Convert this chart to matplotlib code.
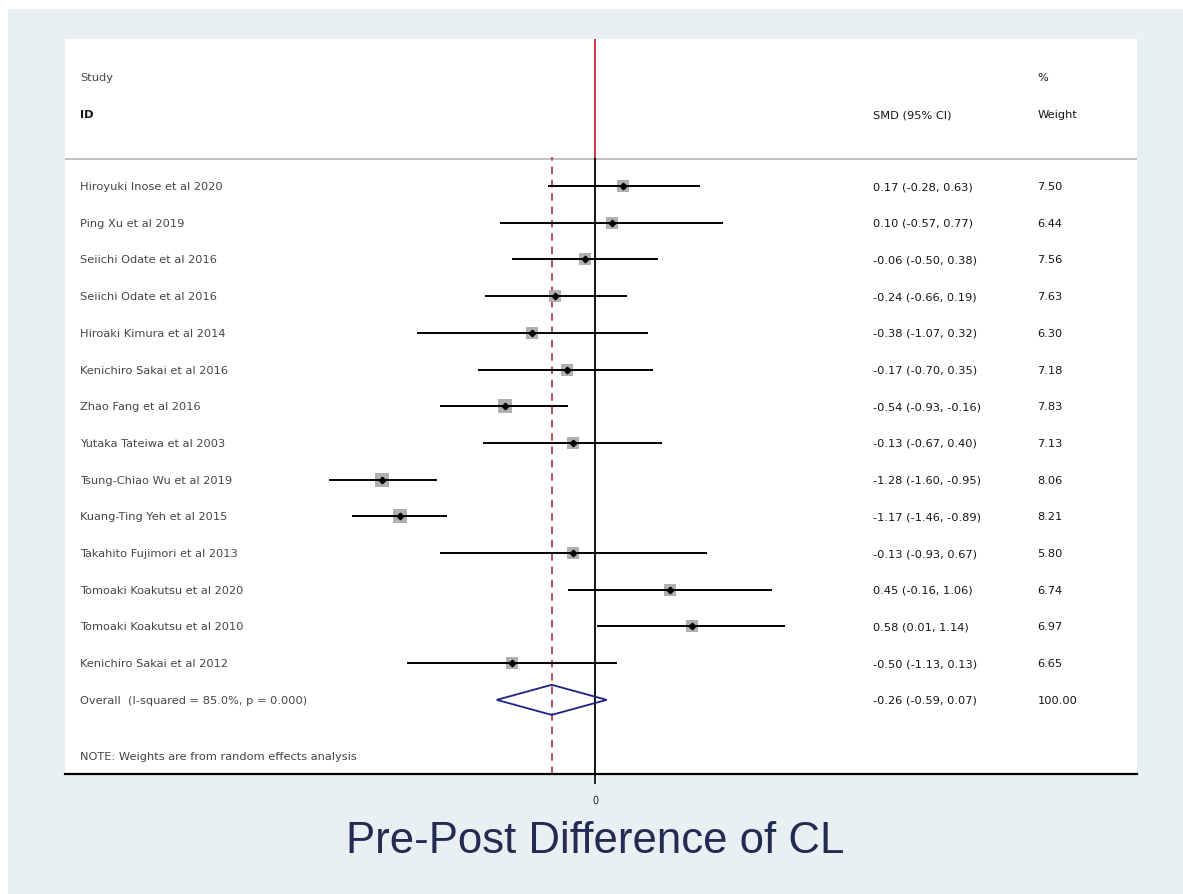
import matplotlib.pyplot as plt
from matplotlib.patches import Rectangle
import numpy as np

# study data
studies = ["Hiroyuki Inose et al 2020", "Ping Xu et al 2019", "Seiichi Odate et al 2016",
           "Seiichi Odate et al 2016", "Hiroaki Kimura et al 2014", "Kenichiro Sakai et al 2016",
           "Zhao Fang et al 2016", "Yutaka Tateiwa et al 2003", "Tsung-Chiao Wu et al 2019",
           "Kuang-Ting Yeh et al 2015", "Takahito Fujimori et al 2013", "Tomoaki Koakutsu et al 2020",
           "Tomoaki Koakutsu et al 2010", "Kenichiro Sakai et al 2012"]
smd = [0.17, 0.10, -0.06, -0.24, -0.38, -0.17, -0.54, -0.13, -1.28, -1.17, -0.13, 0.45, 0.58, -0.50]
lo = [-0.28, -0.57, -0.50, -0.66, -1.07, -0.70, -0.93, -0.67, -1.60, -1.46, -0.93, -0.16, 0.01, -1.13]
hi = [0.63, 0.77, 0.38, 0.19, 0.32, 0.35, -0.16, 0.40, -0.95, -0.89, 0.67, 1.06, 1.14, 0.13]
weights = [7.50, 6.44, 7.56, 7.63, 6.30, 7.18, 7.83, 7.13, 8.06, 8.21, 5.80, 6.74, 6.97, 6.65]
overall = -0.26
overall_lo = -0.59
overall_hi = 0.07
overall_label = "Overall  (I-squared = 85.0%, p = 0.000)"
ci_labels = ["0.17 (-0.28, 0.63)", "0.10 (-0.57, 0.77)", "-0.06 (-0.50, 0.38)", "-0.24 (-0.66, 0.19)",
             "-0.38 (-1.07, 0.32)", "-0.17 (-0.70, 0.35)", "-0.54 (-0.93, -0.16)", "-0.13 (-0.67, 0.40)",
             "-1.28 (-1.60, -0.95)", "-1.17 (-1.46, -0.89)", "-0.13 (-0.93, 0.67)", "0.45 (-0.16, 1.06)",
             "0.58 (0.01, 1.14)", "-0.50 (-1.13, 0.13)"]
overall_ci_label = "-0.26 (-0.59, 0.07)"
overall_weight = "100.00"

bg = "#e9f0f3"
fig = plt.figure(figsize=(11.83, 8.95), dpi=100, facecolor="white")
# light blue-grey graph region, thin white margin at top/left like the screenshot
fig.patches.append(Rectangle((8 / 1183, 0), 1, 1 - 10 / 895, transform=fig.transFigure,
                             facecolor=bg, edgecolor="none", zorder=-10))
ax = fig.add_axes([65 / 1183, 120 / 895, 1072 / 1183, 735 / 895])
ax.set_facecolor("white")

n = len(studies)
rows = np.arange(n)
sep = -0.736
ymin, ymax = 16.02, -4.005
ax.set_xlim(-3.183, 3.255)
ax.set_ylim(ymin, ymax)

# header separator and reference lines
ax.axhline(sep, color="#b5b5b5", lw=1.2)
ax.plot([0, 0], [ymax, sep], color="#c8233c", lw=1.3)
ax.plot([0, 0], [ymin, sep], color="black", lw=1.3, clip_on=False)
ax.plot([overall, overall], [ymin, sep - 0.05], color="#a3333d", lw=1.2, dashes=(4.5, 3.5))

# CIs and boxes
ax.hlines(rows, lo, hi, color="black", lw=1.4, zorder=3)
for i in range(n):
    ax.plot(smd[i], i, marker="s", ms=3.35 * np.sqrt(weights[i]), color="#b0b0b0", mew=0, zorder=2)
ax.plot(smd, rows, "D", color="black", ms=3.3, zorder=4)

# overall diamond
yo = n
h = 0.41
ax.fill([overall_lo, overall, overall_hi, overall], [yo, yo - h, yo, yo + h],
        facecolor="none", edgecolor="#1c2185", lw=1.3, zorder=4)

# text columns
tr = ax.get_yaxis_transform()
name_kw = dict(fontsize=8.2, color="#454545", va="center", transform=tr)
val_kw = dict(fontsize=8.2, color="#151515", va="center", transform=tr)
ax.text(0.014, -2.97, "Study", **name_kw)
ax.text(0.014, -1.96, "ID", fontweight="bold", **val_kw)
ax.text(0.754, -1.96, "SMD (95% CI)", **val_kw)
ax.text(0.907, -2.97, "%", **val_kw)
ax.text(0.907, -1.96, "Weight", **val_kw)
for i in range(n):
    ax.text(0.014, i, studies[i], **name_kw)
    ax.text(0.754, i, ci_labels[i], **val_kw)
    ax.text(0.907, i, f"{weights[i]:.2f}", **val_kw)
ax.text(0.014, yo, overall_label, **name_kw)
ax.text(0.754, yo, overall_ci_label, **val_kw)
ax.text(0.907, yo, overall_weight, **val_kw)
ax.text(0.014, 15.53, "NOTE: Weights are from random effects analysis", **name_kw)

# axes styling
for s in ["top", "left", "right"]:
    ax.spines[s].set_visible(False)
ax.spines["bottom"].set_linewidth(1.6)
ax.set_yticks([])
ax.set_xticks([0])
ax.set_xticklabels(["0"])
ax.tick_params(axis="x", length=7, width=1.2, pad=8, labelsize=7, labelcolor="#222222")

fig.text(595 / 1183, 1 - 842 / 895, "Pre-Post Difference of CL", ha="center", va="center",
         fontsize=31.5, family="Liberation Sans", color="#222c52")

fig.savefig("out.png", dpi=100, facecolor="white")
